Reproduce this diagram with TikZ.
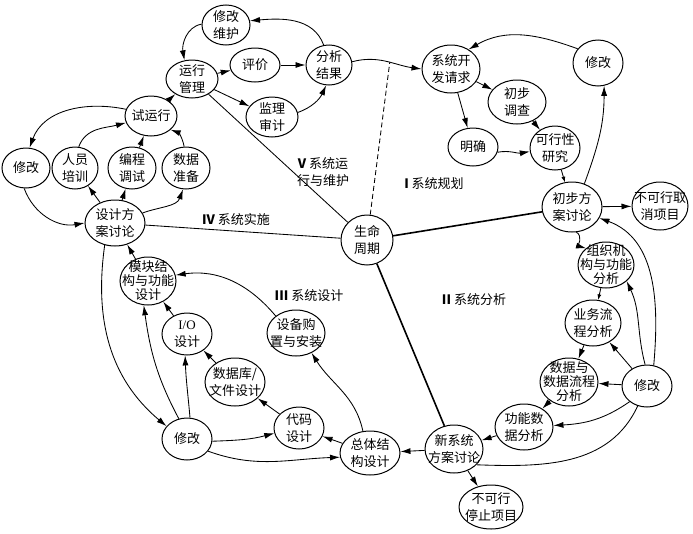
\documentclass[tikz,border=0pt]{standalone}
\usepackage{fontspec}
\setmainfont{Liberation Serif}
\newfontfamily\cjk{Noto Sans CJK SC}
\usetikzlibrary{shapes.geometric,arrows.meta}
\newcommand\ellnode[5]{\node[el, minimum width=#3pt, minimum height=#4pt, label={[txt]center:{#5}}] (#1) at (#2) {};}
\newcommand\ellnodeT[5]{\node[el, minimum width=#3pt, minimum height=#4pt, label={[txt,tri]center:{#5}}] (#1) at (#2) {};}
\begin{document}
\begin{tikzpicture}[x=1pt,y=-1pt,
 el/.style={ellipse,draw,line width=1pt,inner sep=0pt},
 txt/.style={align=center,inner sep=0pt,font=\cjk\fontsize{13}{16.5}\selectfont},
 tri/.style={font=\cjk\fontsize{13}{14}\selectfont},
 arr/.style={line width=0.85pt,-{Latex[length=10pt,width=6pt]}},
 sarr/.style={line width=0.85pt,-{Latex[length=5.5pt,width=4pt]}},
 ln/.style={line width=0.85pt},
 thk/.style={line width=1.6pt},
 lab/.style={align=center,inner sep=0pt,font=\cjk\fontsize{13}{17}\selectfont}
]
\useasboundingbox (0,0) rectangle (693,533);

% ---- nodes ----
\ellnode{xgwh}{226,25}{48}{40}{修改\\维护}
\ellnode{yxgl}{192,79}{52}{38}{运行\\管理}
\ellnode{pj}{255,65}{50}{34}{评价}
\ellnode{fxjg}{329,65}{46}{40}{分析\\结果}
\ellnode{jlsj}{272,117}{52}{40}{监理\\审计}
\ellnode{syx}{151,116}{52}{40}{试运行}
\ellnode{xgL}{26,168}{48}{40}{修改}
\ellnode{ryxl}{75,168}{46}{42}{人员\\培训}
\ellnode{bcts}{132,168}{48}{42}{编程\\调试}
\ellnode{sjzb}{186,168}{48}{42}{数据\\准备}
\ellnode{sjfa}{115,223}{60}{46}{设计方\\案讨论}
\ellnodeT{mkjg}{148,281}{56}{48}{模块结\\构与功能\\设计}
\ellnode{io}{187,334}{50}{42}{{\rmfamily I/O}\\设计}
\ellnode{sbgz}{296,333}{58}{46}{设备购\\置与安装}
\ellnode{sjk}{235,382}{60}{48}{数据库/\\文件设计}
\ellnode{dm}{299,428}{50}{42}{代码\\设计}
\ellnode{xgBL}{187,439}{50}{42}{修改}
\ellnode{ztjg}{370,453}{60}{44}{总体结\\构设计}
\ellnode{xxt}{454,449}{58}{48}{新系统\\方案讨论}
\ellnode{bkxt}{491,507}{64}{44}{不可行\\停止项目}
\ellnode{gnsj}{524,427}{58}{46}{功能数\\据分析}
\ellnodeT{sjlc}{569,382}{58}{48}{数据与\\数据流程\\分析}
\ellnode{xgR}{647,386}{50}{42}{修改}
\ellnode{ywlc}{593,323}{56}{46}{业务流\\程分析}
\ellnodeT{zzjg}{606,265}{56}{46}{组织机\\构与功能\\分析}
\ellnode{cbfa}{572,207}{60}{50}{初步方\\案讨论}
\ellnode{bkxq}{660,206}{56}{48}{不可行取\\消项目}
\ellnode{kxx}{555,148}{50}{44}{可行性\\研究}
\ellnode{mq}{473,147}{50}{38}{明确}
\ellnode{cbdc}{517,102}{58}{44}{初步\\调查}
\ellnode{xtkf}{451,69}{58}{48}{系统开\\发请求}
\ellnode{xgTR}{598,63}{50}{46}{修改}
\ellnode{smzq}{367,240}{52}{50}{生命\\周期}

% ---- section labels ----
\node[lab] (lV) at (323,172) {{\bfseries V} 系统运\\行与维护};
\node[lab] (lIV) at (236,220) {{\bfseries IV} 系统实施};
\node[lab] (lI) at (434,184) {{\bfseries I} 系统规划};
\node[lab] (lIII) at (309,296) {{\bfseries III} 系统设计};
\node[lab] (lII) at (474,300) {{\bfseries II} 系统分析};

% ---- life cycle spokes ----
\draw[ln] (smzq) -- (yxgl);
\draw[ln] (smzq) -- (sjfa);
\draw[thk] (smzq) -- (cbfa);
\draw[thk] (smzq) -- (xxt);

% ---- V ----
\draw[arr] (fxjg.105) to[out=110,in=5] (xgwh.10);
\draw[arr] (xgwh.178) to[out=190,in=100] (yxgl.112);
\draw[arr] (yxgl) -- (pj);
\draw[arr] (pj) -- (fxjg);
\draw[arr] (yxgl) -- (jlsj);
\draw[arr] (jlsj.10) to[out=20,in=245] (fxjg.262);
\draw[arr] (syx) -- (yxgl);

% ---- IV ----
\draw[arr] (syx.165) to[out=168,in=70] (xgL.80);
\draw[arr] (ryxl.80) to[out=70,in=195] (syx.195);
\draw[arr] (bcts) -- (syx);
\draw[arr] (sjzb.95) to[out=100,in=-20] (syx.-35);
\draw[arr] (xgL.265) to[out=-70,in=190] (sjfa.180);
\draw[arr] (sjfa) -- (ryxl);
\draw[arr] (sjfa) -- (bcts);
\draw[arr] (sjfa.20) to[out=20,in=250] (sjzb.262);

% ---- I ----
\draw[arr] (fxjg.8) to[out=15,in=172] coordinate[pos=0.55] (dtop) (xtkf.180);
\draw[ln,dash pattern=on 5pt off 3pt] (smzq) -- (dtop);
\draw[arr] (xtkf) -- (cbdc);
\draw[arr] (xtkf) -- (mq);
\draw[arr] (cbdc) -- (kxx);
\draw[arr] (mq.-12) to[out=10,in=190] (kxx.188);
\draw[sarr] (kxx) -- (cbfa);
\draw[arr] (cbfa.62) to[out=70,in=-90] (xgTR.-75);
\draw[arr] (xgTR.145) to[out=160,in=30] (xtkf.48);
\draw[arr] (cbfa) -- (bkxq);

% ---- II ----
\draw[arr] (cbfa.-80) to[out=-30,in=165] (zzjg.140);
\draw[sarr] (zzjg) -- (ywlc);
\draw[arr] (ywlc) -- (sjlc);
\draw[arr] (sjlc) -- (gnsj);
\draw[arr] (gnsj) -- (xxt);
\draw[arr] (xxt) -- (ztjg);
\draw[arr] (xxt) -- (bkxt);
\draw[arr] (xgR.95) to[out=105,in=-65] (zzjg.-38);
\draw[arr] (xgR.72) to[out=85,in=-20] (cbfa.-22);
\draw[arr] (xgR) -- (ywlc);
\draw[arr] (xgR) -- (sjlc);
\draw[arr] (xgR.222) to[out=-145,in=3] (gnsj.3);
\draw[ln] (xgR.245) to[out=-115,in=-2] (xxt.-35);

% ---- III ----
\draw[arr] (mkjg) -- (sjfa);
\draw[arr] (sjfa.245) to[out=-98,in=140] (xgBL.148);
\draw[arr] (xgBL.112) to[out=118,in=-82] (mkjg.-100);
\draw[arr] (xgBL.82) to[out=95,in=-88] (io.-95);
\draw[arr] (io) -- (mkjg);
\draw[arr] (sbgz.140) to[out=130,in=8] (mkjg.12);
\draw[arr] (sjk) -- (io);
\draw[arr] (dm) -- (sjk);
\draw[arr] (xgBL.-5) to[out=2,in=195] (dm.192);
\draw[arr] (xgBL.-30) to[out=-20,in=182] (ztjg.188);
\draw[arr] (ztjg) -- (dm);
\draw[arr] (ztjg.108) to[out=102,in=-58] (sbgz.-52);
\end{tikzpicture}
\end{document}
